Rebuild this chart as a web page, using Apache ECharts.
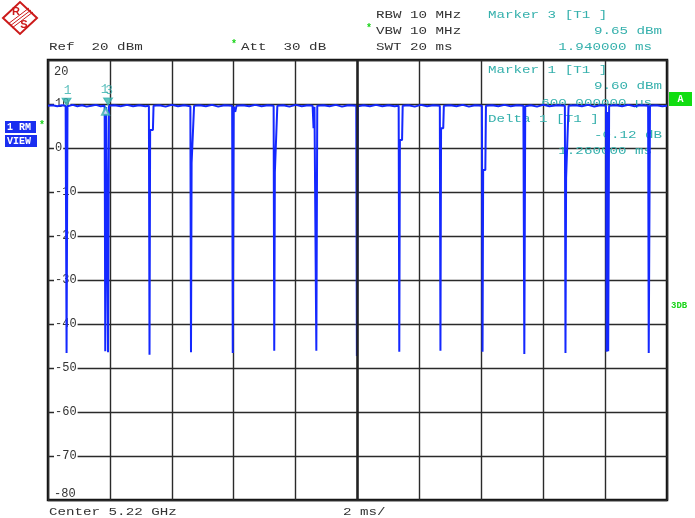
<!DOCTYPE html>
<html>
<head>
<meta charset="utf-8">
<script src="https://cdn.jsdelivr.net/npm/echarts@6/dist/echarts.min.js"></script>
<style>
  html, body { margin: 0; padding: 0; background: #fff; }
  #chart { width: 695px; height: 518px; }
</style>
</head>
<body>
<div id="chart"></div>
<script>
// Zero-span sweep, 0..20 ms, level in dBm (RMS trace)
const trace = [
  [0.00, 9.6], [0.15, 9.7], [0.30, 9.5], [0.45, 9.7], [0.57, 9.6],
  [0.60, -46.6], [0.63, 9.5],
  [0.80, 9.8], [0.95, 9.5], [1.10, 9.7], [1.25, 9.4], [1.40, 9.6], [1.55, 9.8], [1.70, 9.5], [1.83, 9.6],
  [1.85, -46.2], [1.88, 9.3], [1.91, 9.4], [1.94, -46.4], [1.97, 9.6],
  [2.15, 9.7], [2.35, 9.5], [2.55, 9.8], [2.75, 9.5], [2.95, 9.7], [3.15, 9.5], [3.26, 9.6],
  [3.28, -47.0], [3.30, 4.1], [3.39, 4.1], [3.41, 9.6],
  [3.60, 9.7], [3.80, 9.4], [4.00, 9.8], [4.20, 9.5], [4.40, 9.7], [4.60, 9.5],
  [4.62, -46.4], [4.64, -3.4], [4.70, -3.4], [4.72, 9.6],
  [4.90, 9.7], [5.10, 9.5], [5.30, 9.8], [5.50, 9.4], [5.70, 9.7], [5.95, 9.6],
  [5.97, -46.6], [6.00, 9.4], [6.05, 8.2], [6.09, 9.6],
  [6.30, 9.7], [6.50, 9.5], [6.70, 9.8], [6.90, 9.5], [7.10, 9.7], [7.29, 9.6],
  [7.31, -46.1], [7.33, -5.5], [7.39, -5.5], [7.41, 9.6],
  [7.60, 9.7], [7.80, 9.4], [8.00, 9.8], [8.20, 9.5], [8.40, 9.7], [8.55, 9.6],
  [8.58, 4.5], [8.61, 9.4], [8.65, 9.6], [8.67, -46.1], [8.70, 9.6],
  [8.90, 9.7], [9.10, 9.5], [9.30, 9.8], [9.50, 9.4], [9.70, 9.7], [9.96, 9.6],
  [9.98, -47.3], [10.01, 9.5],
  [10.20, 9.7], [10.40, 9.5], [10.60, 9.8], [10.80, 9.5], [11.00, 9.7], [11.20, 9.5], [11.33, 9.6],
  [11.35, -46.3], [11.37, 1.8], [11.44, 1.8], [11.46, 9.6],
  [11.65, 9.7], [11.85, 9.4], [12.05, 9.8], [12.25, 9.5], [12.45, 9.7], [12.66, 9.6],
  [12.68, -46.1], [12.70, 4.5], [12.77, 4.5], [12.79, 9.6],
  [13.00, 9.7], [13.20, 9.5], [13.40, 9.8], [13.60, 9.4], [13.80, 9.7], [14.02, 9.6],
  [14.04, -46.3], [14.06, -5.0], [14.13, -5.0], [14.15, 9.6],
  [14.35, 9.7], [14.55, 9.5], [14.75, 9.8], [14.95, 9.5], [15.15, 9.7], [15.36, 9.6],
  [15.39, -46.8], [15.42, 9.5],
  [15.60, 9.7], [15.80, 9.4], [16.00, 9.8], [16.20, 9.5], [16.45, 9.7], [16.70, 9.6],
  [16.72, -46.6], [16.74, -6.8], [16.80, -6.8], [16.82, 9.6],
  [17.05, 9.7], [17.25, 9.5], [17.45, 9.8], [17.65, 9.4], [17.85, 9.7], [18.03, 9.6],
  [18.05, -46.3], [18.08, 8.2], [18.10, -46.2], [18.13, 9.6],
  [18.35, 9.7], [18.55, 9.5], [18.75, 9.8], [18.95, 9.5], [19.15, 9.7], [19.39, 9.6],
  [19.41, -46.6], [19.45, 9.6],
  [19.65, 9.7], [19.85, 9.5], [20.00, 9.6]
];

// Markers: number, time (ms), level (dBm), kind
const markerNames = ['1', '3', '1'];
const markerMs = [0.60, 1.94, 1.86];
const markerDbm = [9.60, 9.65, 9.48];
const markerKind = ['normal', 'normal', 'delta'];

// Axis ranges
const timeRange = [0, 20];      // ms, 2 ms/div
const levelRange = [-80, 20];   // dBm, 10 dB/div

const MONO = '"Liberation Mono", "DejaVu Sans Mono", monospace';
const TEAL = '#35b0ac';
const DARK = '#333333';
const TRACE = '#1428ff';
const GREEN = '#19d419';
const GRID = '#2a2a2a';

const chart = echarts.init(document.getElementById('chart'), null, { renderer: 'canvas' });

function txt(x, y, s, color, align, z) {
  return {
    type: 'text', x: x, y: y, scaleX: 1.29, z: z === undefined ? 10 : z,
    style: { text: s, fill: color, font: '11px ' + MONO, align: align || 'left', verticalAlign: 'middle' }
  };
}
function star(x, y) {
  return { type: 'text', x: x, y: y, z: 10,
    style: { text: '*', fill: GREEN, font: 'bold 10px ' + MONO, align: 'center', verticalAlign: 'middle' } };
}

const m1 = 0, m3 = 1, d1 = 2;
const deltaMs = markerMs[d1] - markerMs[m1];
const deltaDb = markerDbm[d1] - markerDbm[m1];

const graphics = [
  // R&S logo
  { type: 'polygon', z: 10, shape: { points: [[3, 18], [20, 2], [37, 18], [20, 34]] },
    style: { fill: '#fff', stroke: '#cc1a1a', lineWidth: 2 } },
  { type: 'line', z: 11, shape: { x1: 8, y1: 24, x2: 29, y2: 8 }, style: { stroke: '#cc1a1a', lineWidth: 1 } },
  { type: 'line', z: 11, shape: { x1: 10, y1: 26, x2: 31, y2: 10 }, style: { stroke: '#cc1a1a', lineWidth: 1 } },
  { type: 'line', z: 11, shape: { x1: 12, y1: 28, x2: 33, y2: 12 }, style: { stroke: '#cc1a1a', lineWidth: 1 } },
  { type: 'text', x: 16, y: 12, z: 12, style: { text: 'R', fill: '#cc1a1a', font: 'bold 11px "Liberation Sans"', align: 'center', verticalAlign: 'middle' } },
  { type: 'text', x: 24, y: 25, z: 12, style: { text: 'S', fill: '#cc1a1a', font: 'bold 11px "Liberation Sans"', align: 'center', verticalAlign: 'middle' } },

  // instrument settings
  txt(49, 47.5, 'Ref  20 dBm', DARK),
  star(234, 44), txt(241, 47.5, 'Att  30 dB', DARK),
  txt(376, 15, 'RBW 10 MHz', DARK),
  star(369, 28), txt(376, 31, 'VBW 10 MHz', DARK),
  txt(376, 47.5, 'SWT 20 ms', DARK),

  // marker 3 readout
  txt(488, 15, 'Marker 3 [T1 ]', TEAL),
  txt(662, 31, markerDbm[m3].toFixed(2) + ' dBm', TEAL, 'right'),
  txt(652, 47.5, markerMs[m3].toFixed(6) + ' ms', TEAL, 'right'),

  // marker 1 / delta 1 readouts inside the screen
  txt(488, 70, 'Marker 1 [T1 ]', TEAL, 'left', 1),
  txt(662, 86.5, markerDbm[m1].toFixed(2) + ' dBm', TEAL, 'right', 1),
  txt(652, 103, (markerMs[m1] * 1000).toFixed(6) + ' \u00b5s', TEAL, 'right', 1),
  txt(488, 119, 'Delta 1 [T1 ]', TEAL, 'left', 1),
  txt(662, 135, deltaDb.toFixed(2) + ' dB', TEAL, 'right', 1),
  txt(652, 151.5, deltaMs.toFixed(6) + ' ms', TEAL, 'right', 1),

  // trace badges on the left
  { type: 'rect', z: 10, shape: { x: 5, y: 121, width: 31, height: 12 }, style: { fill: '#1a2ef0' } },
  { type: 'text', x: 7, y: 127.5, z: 11, style: { text: '1 RM', fill: '#fff', font: 'bold 10px ' + MONO, verticalAlign: 'middle' } },
  star(42, 125),
  { type: 'rect', z: 10, shape: { x: 5, y: 135, width: 32, height: 12 }, style: { fill: '#1a2ef0' } },
  { type: 'text', x: 7, y: 141.5, z: 11, style: { text: 'VIEW', fill: '#fff', font: 'bold 10px ' + MONO, verticalAlign: 'middle' } },

  // right side indicators
  { type: 'rect', z: 10, shape: { x: 669, y: 92, width: 23, height: 14 }, style: { fill: '#11dd11' } },
  { type: 'text', x: 680.5, y: 99, z: 11, style: { text: 'A', fill: '#fff', font: 'bold 10px ' + MONO, align: 'center', verticalAlign: 'middle' } },
  { type: 'text', x: 671, y: 305.5, z: 10, style: { text: '3DB', fill: GREEN, font: 'bold 9px ' + MONO, verticalAlign: 'middle' } },

  // footer
  txt(49, 512, 'Center 5.22 GHz', DARK),
  txt(343, 512, '2 ms/', DARK)
];

const markerData = markerMs.map(function (t, i) {
  const isDelta = markerKind[i] === 'delta';
  return {
    value: [t, markerDbm[i]],
    symbol: isDelta ? 'emptyTriangle' : 'triangle',
    symbolRotate: isDelta ? 0 : 180,
    symbolSize: isDelta ? [7, 7] : [9, 7],
    symbolOffset: isDelta ? [0, 5] : [0, -4],
    label: {
      show: true, formatter: markerNames[i], position: 'top',
      distance: 1, offset: isDelta ? [-1, -10] : [1, 0]
    }
  };
});

const option = {
  animation: false,
  backgroundColor: '#fff',
  grid: {
    left: 48, top: 60, right: 28, bottom: 18,
    show: true, borderColor: '#111', borderWidth: 2.5, backgroundColor: '#fff'
  },
  xAxis: {
    type: 'value', min: timeRange[0], max: timeRange[1], interval: 2,
    axisLine: { show: false }, axisTick: { show: false }, axisLabel: { show: false },
    splitLine: { show: true, lineStyle: { color: GRID, width: 1.4 } }
  },
  yAxis: {
    type: 'value', min: levelRange[0], max: levelRange[1], interval: 10,
    axisLine: { show: false }, axisTick: { show: false },
    splitLine: { show: true, lineStyle: { color: GRID, width: 1.4 } },
    axisLabel: {
      inside: true, margin: 6, align: 'left', color: DARK,
      fontFamily: MONO, fontSize: 12,
      formatter: function (v) {
        if (v === levelRange[1]) return '{top|' + v + '}';
        if (v === levelRange[0]) return '{bot|' + v + '}';
        return '{n|' + v + '}';
      },
      rich: {
        n: { backgroundColor: '#fff', padding: [0, 1, 0, 1], color: DARK, fontFamily: MONO, fontSize: 12 },
        top: { padding: [24, 0, 0, 0], color: DARK, fontFamily: MONO, fontSize: 12 },
        bot: { padding: [0, 0, 12, 0], color: DARK, fontFamily: MONO, fontSize: 12 }
      }
    }
  },
  graphic: graphics,
  series: [
    {
      // centre division line
      type: 'line', data: [], z: 1, silent: true,
      markLine: {
        silent: true, symbol: 'none', label: { show: false },
        lineStyle: { color: '#222', width: 2.5, type: 'solid' },
        data: [{ xAxis: 10 }]
      }
    },
    {
      name: 'Trace 1', type: 'line', data: trace, z: 3,
      showSymbol: false, smooth: false,
      lineStyle: { color: TRACE, width: 2 }
    },
    {
      name: 'Markers', type: 'scatter', data: markerData, z: 5,
      itemStyle: { color: TEAL, borderColor: TEAL },
      label: { color: TEAL, fontFamily: MONO, fontSize: 13 }
    }
  ]
};

chart.setOption(option);
</script>
</body>
</html>
